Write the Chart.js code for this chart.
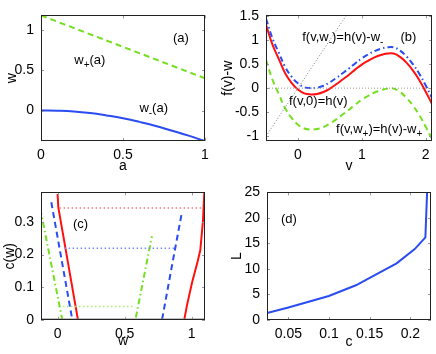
<!DOCTYPE html>
<html><head><meta charset="utf-8">
<script src="https://cdn.jsdelivr.net/npm/chart.js@4.4.1/dist/chart.umd.min.js"></script>
<style>
html,body{margin:0;padding:0;background:#fff;}
#wrap{position:relative;width:436px;height:354px;overflow:hidden;}
canvas{position:absolute;}
</style></head><body>
<div id="wrap">
<canvas id="ca" width="218" height="177" style="left:0;top:0"></canvas>
<canvas id="cb" width="218" height="177" style="left:218px;top:0"></canvas>
<canvas id="cc" width="218" height="177" style="left:0;top:177px"></canvas>
<canvas id="cd" width="218" height="177" style="left:218px;top:177px"></canvas>
</div>
<script>
// ---------- data ----------
// panel (a)
const aPlus = [0, 1];
const wPlus = [1.18, 0.40];
const aMinus = [0, 0.1, 0.2, 0.3, 0.4, 0.5, 0.6, 0.7, 0.8, 0.9, 1.0];
const wMinus = [0, -0.002, -0.01, -0.03, -0.06, -0.095, -0.14, -0.19, -0.25, -0.31, -0.38];
const aXTicks = [0, 0.5, 1];
const aYTicks = [0, 0.5, 1];
// panel (b)
const vVals = [-0.5,-0.4,-0.3,-0.2,-0.1,0,0.1,0.2,0.3,0.4,0.5,0.6,0.7,0.8,0.9,1.0,1.1,1.2,1.3,1.4,1.5,1.6,1.7,1.8,1.9,2.0,2.1];
const hRed   = [1.32,0.91,0.61,0.31,0.11,-0.03,-0.11,-0.13,-0.12,-0.08,-0.01,0.08,0.18,0.28,0.39,0.49,0.57,0.64,0.69,0.72,0.72,0.65,0.53,0.37,0.17,-0.07,-0.33];
const hBlue  = [1.45,1.04,0.74,0.44,0.24,0.10,0.02,0.00,0.01,0.05,0.12,0.21,0.31,0.41,0.52,0.62,0.70,0.77,0.82,0.85,0.85,0.78,0.66,0.50,0.30,0.06,-0.20];
const hGreen = [0.59,0.18,-0.12,-0.42,-0.62,-0.76,-0.84,-0.86,-0.85,-0.81,-0.74,-0.65,-0.55,-0.45,-0.34,-0.24,-0.16,-0.09,-0.04,-0.01,-0.01,-0.08,-0.20,-0.36,-0.56,-0.80,-1.06];
const diagV = [-0.5, 0.76];
const diagY = [-1.0, 1.52];
const zeroV = [-0.5, 2.1];
const zeroY = [0, 0];
const bXTicks = [0, 1, 2];
const bYTicks = [-1, -0.5, 0, 0.5, 1, 1.5];
// panel (c)
const cRedW  = [0.0, 0.005, 0.152, 0.945, 0.965, 1.003, 1.045, 1.065, 1.085, 1.095];
const cRedC  = [0.385, 0.345, 0, 0, 0.044, 0.114, 0.179, 0.214, 0.304, 0.39];
const cBlueW = [-0.047, 0.11, 0.779, 0.853, 0.928];
const cBlueC = [0.36, 0, 0, 0.165, 0.33];
const cGreenW = [-0.129, 0.035, 0.58, 0.704];
const cGreenC = [0.34, 0, 0, 0.256];
const cRedDotW = [0.015, 1.078];   const cRedDotC = [0.342, 0.342];
const cBlueDotW = [0.052, 0.878];  const cBlueDotC = [0.219, 0.219];
const cGreenDotW = [0.04, 0.567];  const cGreenDotC = [0.041, 0.041];
const cBaseW = [-0.2, 1.2]; const cBaseC = [0, 0];
const cXTicks = [0, 0.5, 1];
const cYTicks = [0, 0.1, 0.2, 0.3];
// panel (d)
const dC = [0.0237, 0.05, 0.0997, 0.133, 0.15, 0.183, 0.2053, 0.2184, 0.2205];
const dL = [1.35, 2.45, 4.7, 6.8, 8.25, 11.1, 13.9, 16.2, 25];
const dXTicks = [0.05, 0.1, 0.15, 0.2];
const dYTicks = [0, 5, 10, 15, 20, 25];

// ---------- helpers ----------
const FONT = 'Liberation Sans, Arial, Helvetica, sans-serif';
const RED = '#ff1111', BLUE = '#2a4cf0', GREEN = '#74e020';
const pts = (xs, ys) => xs.map((x, i) => ({x: x, y: ys[i]}));

function line(xs, ys, color, width, dash, tension) {
  return {data: pts(xs, ys), borderColor: color, borderWidth: width, borderDash: dash || [],
    showLine: true, pointRadius: 0, tension: tension || 0, fill: false};
}

const framePlugin = {
  id: 'frame',
  afterDatasetsDraw(chart) {
    const {ctx, chartArea: ca, scales} = chart;
    ctx.save();
    ctx.strokeStyle = '#999'; ctx.lineWidth = 1;
    const tl = 3;
    scales.x.ticks.forEach(t => {
      const x = Math.round(scales.x.getPixelForValue(t.value)) + 0.5;
      ctx.beginPath(); ctx.moveTo(x, ca.bottom); ctx.lineTo(x, ca.bottom - tl);
      ctx.moveTo(x, ca.top); ctx.lineTo(x, ca.top + tl); ctx.stroke();
    });
    scales.y.ticks.forEach(t => {
      const y = Math.round(scales.y.getPixelForValue(t.value)) + 0.5;
      ctx.beginPath(); ctx.moveTo(ca.left, y); ctx.lineTo(ca.left + tl, y);
      ctx.moveTo(ca.right, y); ctx.lineTo(ca.right - tl, y); ctx.stroke();
    });
    ctx.strokeStyle = '#222';
    ctx.strokeRect(Math.round(ca.left) + 0.5, Math.round(ca.top) + 0.5,
      Math.round(ca.right - ca.left) - 1, Math.round(ca.bottom - ca.top) - 1);
    ctx.restore();
  },
  afterDraw(chart) {
    const notes = chart.options.plugins.frame && chart.options.plugins.frame.notes || [];
    const {ctx, scales} = chart;
    ctx.save();
    ctx.fillStyle = '#000';
    ctx.textBaseline = 'middle';
    ctx.textAlign = 'left';
    notes.forEach(n => {
      let x = scales.x.getPixelForValue(n.x);
      const y = scales.y.getPixelForValue(n.y);
      n.parts.forEach(p => {
        if (p.sub) {
          ctx.font = '10px ' + FONT;
          ctx.fillText(p.t, x, y + 5);
        } else {
          ctx.font = '13px ' + FONT;
          ctx.fillText(p.t, x, y);
        }
        x += ctx.measureText(p.t).width;
      });
    });
    ctx.restore();
  }
};

function axis(min, max, ticks, title, size, tickPad, titlePad, horizontal) {
  const tfont = {family: FONT, size: 14};
  return {
    type: 'linear', min: min, max: max,
    afterBuildTicks: s => { s.ticks = ticks.map(v => ({value: v})); },
    afterFit: s => { if (horizontal) s.height = size; else s.width = size; },
    grid: {display: false, drawTicks: false},
    border: {display: false},
    ticks: {font: tfont, color: '#000', padding: tickPad, maxRotation: 0, autoSkip: false,
      callback: v => String(v)},
    title: {display: true, text: title, color: '#000', font: tfont,
      padding: horizontal ? {top: 0, bottom: titlePad} : {top: titlePad, bottom: 0}}
  };
}

function make(id, datasets, pad, xs, ys, notes) {
  return new Chart(document.getElementById(id), {
    type: 'scatter',
    data: {datasets: datasets},
    options: {
      responsive: false, animation: false, events: [],
      layout: {padding: pad},
      plugins: {legend: {display: false}, tooltip: {enabled: false}, frame: {notes: notes}},
      scales: {x: xs, y: ys}
    },
    plugins: [framePlugin]
  });
}

// ---------- panel (a) ----------
make('ca', [
  line(aPlus, wPlus, GREEN, 2, [6, 4]),
  line(aMinus, wMinus, BLUE, 2, [], 0.4)
], {left: 0, top: 10, right: 13, bottom: 0},
  axis(0, 1, aXTicks, 'a', 36, 6, 2, true),
  axis(-0.377, 1.18, aYTicks, 'w', 41, 7, 4, false),
  [
    {x: 0.805, y: 0.896, parts: [{t: '(a)'}]},
    {x: 0.203, y: 0.619, parts: [{t: 'w'}, {t: '+', sub: true}, {t: '(a)'}]},
    {x: 0.60, y: 0.031, parts: [{t: 'w'}, {t: '-', sub: true}, {t: '(a)'}]}
  ]);

// ---------- panel (b) ----------
make('cb', [
  line(zeroV, zeroY, '#999', 1, [1, 2]),
  line(diagV, diagY, '#777', 1, [1, 2]),
  line(vVals, hGreen, GREEN, 2, [6, 4], 0.4),
  line(vVals, hBlue, BLUE, 2, [6, 3, 1.5, 3], 0.4),
  line(vVals, hRed, RED, 2, [], 0.4)
], {left: 0, top: 10, right: 4, bottom: 0},
  axis(-0.5, 2.1, bXTicks, 'v', 36, 6, 2, true),
  axis(-1.1, 1.514, bYTicks, 'f(v)-w', 48, 7, 2, false),
  [
    {x: 0.067, y: 1.05, parts: [{t: 'f(v,w'}, {t: '-', sub: true}, {t: ')=h(v)-w'}, {t: '-', sub: true}]},
    {x: 1.605, y: 1.05, parts: [{t: '(b)'}]},
    {x: -0.14, y: -0.286, parts: [{t: 'f(v,0)=h(v)'}]},
    {x: 0.598, y: -0.852, parts: [{t: 'f(v,w'}, {t: '+', sub: true}, {t: ')=h(v)-w'}, {t: '+', sub: true}]}
  ]);

// ---------- panel (c) ----------
make('cc', [
  line(cBaseW, cBaseC, '#888', 3, []),
  line(cRedDotW, cRedDotC, '#ff7777', 1.5, [1.5, 2.5]),
  line(cBlueDotW, cBlueDotC, '#7a8cff', 1.5, [1.5, 2.5]),
  line(cGreenDotW, cGreenDotC, '#a6ee70', 1.5, [1.5, 2.5]),
  line(cRedW, cRedC, RED, 2, []),
  line(cBlueW, cBlueC, BLUE, 2, [6, 4]),
  line(cGreenW, cGreenC, GREEN, 2, [6, 3, 1.5, 3])
], {left: 0, top: 13, right: 13, bottom: 0},
  axis(-0.124, 1.10, cXTicks, 'w', 34, 6, 4, true),
  axis(0, 0.39, cYTicks, 'c(w)', 41, 7, 2, false),
  [
    {x: 0.115, y: 0.293, parts: [{t: '(c)'}]}
  ]);

// ---------- panel (d) ----------
make('cd', [
  line(dC, dL, BLUE, 2, [])
], {left: 0, top: 13, right: 5, bottom: 0},
  axis(0.0237, 0.2253, dXTicks, 'c', 34, 6, 3, true),
  axis(0, 25, dYTicks, 'L', 49, 7, 11, false),
  [
    {x: 0.0409, y: 19.7, parts: [{t: '(d)'}]}
  ]);
</script>
</body></html>
